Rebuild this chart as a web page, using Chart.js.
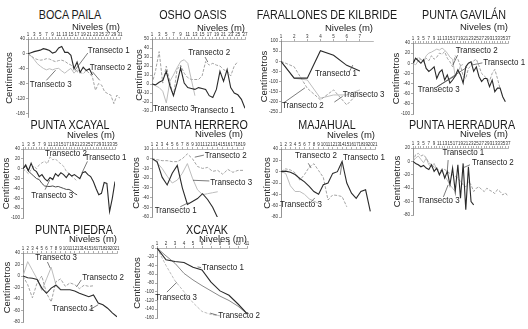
<!DOCTYPE html>
<html>
<head>
<meta charset="utf-8">
<script src="https://cdn.jsdelivr.net/npm/chart.js@4.4.0/dist/chart.umd.min.js"></script>
<style>
  body { margin: 0; width: 528px; height: 329px; background: #fff; position: relative; overflow: hidden;
         font-family: "Liberation Sans", Arial, sans-serif; }
  .ttl { position: absolute; transform: translate(-50%, -50%) scaleX(0.86); font-size: 12.5px; white-space: nowrap; color: #1a1a1a; }
</style>
</head>
<body>
<script>
const FONT = '"Liberation Sans", Arial, sans-serif';

// ---- Boca Paila ----
const bocaLevels = [1,2,3,4,5,6,7,8,9,10,11,12,13,14,15,16,17,18,19,20,21,22,23,24,25,26,27,28,29,30,31];
const bocaXLabels = [1,3,5,7,9,11,13,15,17,19,21,23,25,27,29,31];
const bocaYTicks = [40,20,0,-20,-40,-60,-80,-100,-120,-140,-160];
const bocaT1 = [0,3,6,8,10,14,12,9,2,5,16,20,4,4,-4,-40,-22,-50,-36,-45,-40,-57];
const bocaT2 = [0,-5,-12,-15,-17,-16,-13,-14,-18,-21,-18,-17,-20,-26,-30,-39,-48,-50,-53,-45,-52,-62,-98,-80,-84,-102,-107,-111,-134,-111,-120];
const bocaT3 = [0,-6,-15,-26,-33,-39,-43,-40,-43,-40,-39,-46,-52,-45,-39,-52,-43,-48];

// ---- Osho Oasis ----
const oshoLevels = [1,2,3,4,5,6,7,8,9,10,11,12,13,14,15,16,17,18,19,20,21,22,23,24,25,26,27];
const oshoXLabels = [1,3,5,7,9,11,13,15,17,19,21,23,25,27];
const oshoYTicks = [50,40,30,20,10,0,-10,-20,-30];
const oshoT1 = [0,-1,2,4,14,-2,-13,1,18,1,-4,-5,-6,-4,-5,-6,-13,-15,-6,14,3,16,-4,-10,-12,-17,-27];
const oshoT2 = [0,15,36,1,20,2,-13,16,21,12,7,5,5,5,9,25,21,23,21,20,16,14,9,20,25];
const oshoT3 = [0,-2,-4,-8,-21,3,10,18,25,27,23,5,-13];

// ---- Farallones de Kilbride ----
const farLevels = [1,2,3,4,5,6,7];
const farXLabels = [1,2,3,4,5,6,7];
const farYTicks = [100,50,0,-50,-100,-150,-200,-250];
const farT1 = [0,-83,-83,52,30,-20,-48];
const farT2 = [0,-27,-133,-190,-141,-215,-149];
const farT3 = [0,-84,-92,-182,-166,-166,-141];

// ---- Punta Gavilán ----
const gavLevels = [1,2,3,4,5,6,7,8,9,10,11,12,13,14,15,16,17,18,19,20,21,22,23,24,25,26,27,28,29,30,31,32,33,34,35,36,37];
const gavXLabels = [1,3,5,7,9,11,13,15,17,19,21,23,25,27,29,31,33,35,37];
const gavYTicks = [40,20,0,-20,-40,-60,-80,-100];
const gavT1 = [0,10,5,0,7,-10,-16,-12,-7,-30,-18,-13,-33,-23,-39,-33,-25,-13,-23,-39,-7,0,3,-16,-7,-26,-36,-30,-30,-46,-33,-56,-49,-49,-66,-76];
const gavT2 = [0,5,12,8,3,10,5,15,8,12,20,18,23,10,3,-7,15,8,-5,-25,-30,-10,-5,5,8,-5,-20,-25,-30,-35,-20,-12,-30,-50];
const gavT3 = [0,-3,5,8,3,15,20,22,25,28,26,30,26,20,12,8,-26,-18,-5,-2];

// ---- Punta Xcayal ----
const xcaLevels = [1,2,3,4,5,6,7,8,9,10,11,12,13,14,15,16,17,18,19,20,21,22,23,24,25,26,27,28,29,30,31,32,33,34,35];
const xcaXLabels = [1,3,5,7,9,11,13,15,17,19,21,23,25,27,29,31,33,35];
const xcaYTicks = [40,20,0,-20,-40,-60,-80,-100];
const xcaT1 = [0,8,-4,11,-2,-6,-16,-12,-20,-25,-18,-22,-10,-15,-8,-12,-18,-10,-15,-12,-16,-20,-8,-6,-12,-16,-26,-40,-53,-50,-28,-30,-87,-60,-26];
const xcaT2 = [0,-5,-10,-2,5,0,8,12,15,10,24,18,20,14,10,5,-5,-10,-15,-20,-25];
const xcaT3 = [0,5,-5,-10,-15,-20,-22,-30,-35,-36,-36,-35,-37,-36,-38,-40,-42,-42,-45,-50,-53];

// ---- Punta Herrero ----
const herLevels = [1,2,3,4,5,6,7,8,9,10,11,12,13,14,15,16,17,18,19];
const herXLabels = [1,2,3,4,5,6,7,8,9,10,11,12,13,14,15,16,17,18,19];
const herYTicks = [10,0,-10,-20,-30,-40,-50,-60];
const herT1 = [0,-3,-19,-27,-15,-7,-30,-47,-44,-41,-36,-42,-50,-61];
const herT2 = [0,-1,-2,-2,-3,-3,0,5,0,-8,-10,-9,-13,-12,-16,-11,-14,-12,-12];
const herT3 = [0,-4,-10,-18,-25,-22,-15,-5,-20,-32,-37,-36,-35,-34];

// ---- Majahual ----
const majLevels = [1,2,3,4,5,6,7,8,9,10,11,12,13,14,15,16,17,18,19,20,21];
const majXLabels = [1,2,3,4,5,6,7,8,9,10,11,12,13,14,15,16,17,18,19,20,21];
const majYTicks = [40,20,0,-20,-40,-60,-80];
const majT1 = [0,1,-1,-5,-12,-18,-26,-35,-40,-23,-20,-3,0,18,-20,-38,-47,-35,-32,-70];
const majT2 = [0,5,3,-2,-15,-5,8,14,2,-10,-50,-41,-42,-44,-62];
const majT3 = [0,-3,-25,-35,-35,-40,-48,-52,-56];

// ---- Punta Herradura ----
const hraLevels = [1,2,3,4,5,6,7,8,9,10,11,12,13,14,15,16,17,18,19,20,21,22,23,24,25,26,27,28,29,30,31,32,33,34,35,36,37];
const hraXLabels = [1,3,5,7,9,11,13,15,17,19,21,23,25,27,29,31,33,35,37];
const hraYTicks = [20,10,0,-10,-20,-30,-40,-50,-60,-70,-80];
const hraT1 = [0,-3,-5,-8,-6,-10,-12,-5,-15,-10,-20,-12,-25,-15,-35,-10,-45,-5,-55,-3,-72,-8,-60,-65];
const hraT2 = [0,10,12,8,10,5,-2,-5,-8,-12,-13,-15,-12,-15,-18,-20,-22,-25,-30,-35,-38,-30,-35,-45,-40,-38,-42,-45,-40,-43,-45,-48,-42,-45,-50,-47,-52];
const hraT3 = [0,5,8,3,-2,5,-5,-8,-3,-12,-18,-15,-22,-28,-35,-40,-45];

// ---- Punta Piedra ----
const pieLevels = [1,2,3,4,5,6,7,8,9,10,11,12,13,14,15,16,17,18,19,20,21];
const pieXLabels = [1,2,3,4,5,6,7,8,9,10,11,12,13,14,15,16,17,18,19,20,21];
const pieYTicks = [40,20,0,-20,-40,-60,-80];
const pieT1 = [0,-3,-4,-6,-21,-30,-21,-16,-24,-24,-24,-26,-30,-33,-36,-33,-47,-50,-56,-64,-71];
const pieT2 = [0,-15,-38,-12,0,-30,-45,-10,-5,-18,-12,-15,-22,-16,-18,-17];
const pieT3 = [0,25,10,-5,-25,-5,15,-15,-22];

// ---- Xcayak ----
const xckLevels = [1,2,3,4,5,6,7,8,9,10,11];
const xckXLabels = [1,2,3,4,5,6,7,8,9,10,11];
const xckYTicks = [0,-20,-40,-60,-80,-100,-120,-140,-160];
const xckT1 = [0,-27,-31,-33,-44,-50,-78,-98,-108,-128,-150];
const xckT2 = [0,-40,-75,-100,-125,-145,-152,-155];
const xckT3 = [0,-18,-35,-58,-73,-86,-98,-110,-120,-133,-150];

// line styles: Transecto 1, 2, 3
const lineColors = ['#2a2a2a', '#a3a3a3', '#bdbdbd'];

// label positions are fractions of the plot area
const panels = [
  { title: 'BOCA PAILA', tx: 70, ty: 15, l: 28, t: 39, r: 120, b: 117, yW: 24, xH: 17,
    yMin: -170, yMax: 40, yTicks: bocaYTicks, levels: bocaLevels, xLabels: bocaXLabels,
    series: [bocaT1, bocaT2, bocaT3],
    notes: [
      { text: 'Transecto 1', at: [0.65, 0.14], lines: [[[0.65, 0.18], [0.51, 0.40]]] },
      { text: 'Transecto 2', at: [0.67, 0.37], lines: [[[0.70, 0.42], [0.78, 0.53]]] },
      { text: 'Transecto 3', at: [0.02, 0.58], lines: [[[0.20, 0.53], [0.30, 0.40]]] } ] },
  { title: 'OSHO OASIS', tx: 193, ty: 15, l: 152, t: 39, r: 245, b: 111, yW: 18, xH: 16,
    yMin: -30, yMax: 50, yTicks: oshoYTicks, levels: oshoLevels, xLabels: oshoXLabels,
    series: [oshoT1, oshoT2, oshoT3],
    notes: [
      { text: 'Transecto 2', at: [0.39, 0.18], lines: [[[0.57, 0.25], [0.60, 0.32]]] },
      { text: 'Transecto 3', at: [0.01, 0.96], lines: [] },
      { text: 'Transecto 1', at: [0.44, 0.99], lines: [] } ] },
  { title: 'FARALLONES DE KILBRIDE', tx: 327, ty: 15, l: 281, t: 41, r: 373, b: 112, yW: 22, xH: 18,
    yMin: -250, yMax: 100, xMax: 8, yTicks: farYTicks, levels: farLevels, xLabels: farXLabels,
    series: [farT1, farT2, farT3],
    notes: [
      { text: 'Transecto 1', at: [0.37, 0.46], lines: [[[0.74, 0.44], [0.78, 0.34]]] },
      { text: 'Transecto 3', at: [0.67, 0.75], lines: [[[0.67, 0.78], [0.58, 0.86]]] },
      { text: 'Transecto 2', at: [0.01, 0.90], lines: [[[0.03, 0.87], [0.26, 0.66]]] } ] },
  { title: 'PUNTA GAVILÁN', tx: 464, ty: 15, l: 413, t: 43, r: 508, b: 114, yW: 22, xH: 21,
    yMin: -100, yMax: 40, yTicks: gavYTicks, levels: gavLevels, xLabels: gavXLabels,
    series: [gavT1, gavT2, gavT3],
    notes: [
      { text: 'Transecto 2', at: [0.45, 0.10], lines: [[[0.47, 0.17], [0.42, 0.31]]] },
      { text: 'Transecto 1', at: [0.74, 0.27], lines: [[[0.73, 0.28], [0.62, 0.31]]] },
      { text: 'Transecto 3', at: [0.05, 0.66], lines: [[[0.25, 0.62], [0.57, 0.34]], [[0.25, 0.62], [0.46, 0.45]]] } ] },
  { title: 'PUNTA XCAYAL', tx: 70, ty: 125, l: 23, t: 149, r: 115, b: 218, yW: 22, xH: 19,
    yMin: -100, yMax: 40, yTicks: xcaYTicks, levels: xcaLevels, xLabels: xcaXLabels,
    series: [xcaT1, xcaT2, xcaT3], colors: ['#2a2a2a', '#b0b0b0', '#4a4a4a'],
    notes: [
      { text: 'Transecto 2', at: [0.24, 0.06], lines: [] },
      { text: 'Transecto 1', at: [0.67, 0.12], lines: [[[0.70, 0.18], [0.64, 0.35]]] },
      { text: 'Transecto 3', at: [0.09, 0.67], lines: [[[0.24, 0.59], [0.29, 0.45]]] } ] },
  { title: 'PUNTA HERRERO', tx: 202, ty: 125, l: 152, t: 149, r: 243, b: 217, yW: 21, xH: 20,
    yMin: -60, yMax: 10, yTicks: herYTicks, levels: herLevels, xLabels: herXLabels,
    series: [herT1, herT2, herT3],
    notes: [
      { text: 'Transecto 2', at: [0.58, 0.09], lines: [[[0.57, 0.09], [0.47, 0.12]]] },
      { text: 'Transecto 3', at: [0.64, 0.49], lines: [[[0.63, 0.47], [0.45, 0.46]]] },
      { text: 'Transecto 1', at: [0.03, 0.90], lines: [[[0.31, 0.85], [0.40, 0.79]]] } ] },
  { title: 'MAJAHUAL', tx: 327, ty: 125, l: 281, t: 149, r: 375, b: 217, yW: 19, xH: 19,
    yMin: -80, yMax: 40, yTicks: majYTicks, levels: majLevels, xLabels: majXLabels,
    series: [majT1, majT2, majT3],
    notes: [
      { text: 'Transecto 2', at: [0.15, 0.09], lines: [[[0.29, 0.21], [0.32, 0.28]]] },
      { text: 'Transecto 1', at: [0.66, 0.12], lines: [[[0.65, 0.19], [0.63, 0.38]]] },
      { text: 'Transecto 3', at: [-0.01, 0.82], lines: [[[0.31, 0.79], [0.36, 0.72]]] } ] },
  { title: 'PUNTA HERRADURA', tx: 462, ty: 125, l: 413, t: 148, r: 508, b: 215, yW: 21, xH: 19,
    yMin: -80, yMax: 20, yTicks: hraYTicks, levels: hraLevels, xLabels: hraXLabels,
    series: [hraT1, hraT2, hraT3],
    notes: [
      { text: 'Transecto 1', at: [0.31, 0.07], lines: [[[0.37, 0.18], [0.36, 0.36]]] },
      { text: 'Transecto 2', at: [0.62, 0.22], lines: [[[0.60, 0.25], [0.52, 0.30]]] },
      { text: 'Transecto 3', at: [0.05, 0.78], lines: [[[0.32, 0.73], [0.37, 0.55]]] } ] },
  { title: 'PUNTA PIEDRA', tx: 74, ty: 230, l: 23, t: 253, r: 117, b: 322, yW: 21, xH: 19,
    yMin: -80, yMax: 40, yTicks: pieYTicks, levels: pieLevels, xLabels: pieXLabels,
    series: [pieT1, pieT2, pieT3],
    notes: [
      { text: 'Transecto 3', at: [0.13, 0.07], lines: [[[0.26, 0.13], [0.29, 0.22]]] },
      { text: 'Transecto 2', at: [0.63, 0.36], lines: [[[0.62, 0.39], [0.57, 0.49]]] },
      { text: 'Transecto 1', at: [0.31, 0.80], lines: [[[0.70, 0.83], [0.80, 0.75]]] } ] },
  { title: 'XCAYAK', tx: 207, ty: 230, l: 157, t: 248, r: 247, b: 318, yW: 25, xH: 14,
    yMin: -160, yMax: 0, yTicks: xckYTicks, levels: xckLevels, xLabels: xckXLabels,
    series: [xckT1, xckT2, xckT3], colors: ['#2a2a2a', '#bdbdbd', '#8a8a8a'],
    notes: [
      { text: 'Transecto 1', at: [0.50, 0.27], lines: [[[0.49, 0.28], [0.45, 0.27]]] },
      { text: 'Transecto 3', at: [-0.02, 0.70], lines: [[[0.11, 0.63], [0.22, 0.49]]] },
      { text: 'Transecto 2', at: [0.68, 0.96], lines: [[[0.67, 0.96], [0.59, 0.93]]] } ] }
];

// draws the "Transecto n" callouts and their leader lines
const transectLabels = {
  id: 'transectLabels',
  afterDatasetsDraw(chart, args, opts) {
    const a = chart.chartArea;
    const ctx = chart.ctx;
    const px = f => a.left + f * (a.right - a.left);
    const py = f => a.top + f * (a.bottom - a.top);
    ctx.save();
    ctx.strokeStyle = '#444';
    ctx.lineWidth = 0.7;
    (opts.items || []).forEach(it => {
      it.lines.forEach(([p, q]) => {
        ctx.beginPath();
        ctx.moveTo(px(p[0]), py(p[1]));
        ctx.lineTo(px(q[0]), py(q[1]));
        ctx.stroke();
      });
    });
    ctx.font = '9.5px ' + FONT;
    ctx.fillStyle = '#1e1e1e';
    ctx.textBaseline = 'middle';
    ctx.textAlign = 'left';
    (opts.items || []).forEach(it => {
      // condensed look, like the original typeface
      ctx.save();
      ctx.translate(px(it.at[0]), py(it.at[1]));
      ctx.scale(0.84, 1);
      ctx.fillText(it.text, 0, 0);
      ctx.restore();
    });
    ctx.restore();
  }
};

Chart.defaults.font.family = FONT;

function makePanel(p) {
  const padR = 18, padB = 7;
  const w = p.r - p.l + p.yW + padR;
  const h = p.b - p.t + p.xH + padB;
  const cv = document.createElement('canvas');
  cv.width = w;
  cv.height = h;
  cv.style.cssText = 'position:absolute;left:' + (p.l - p.yW) + 'px;top:' + (p.t - p.xH) + 'px;width:' + w + 'px;height:' + h + 'px';
  document.body.appendChild(cv);

  const ttl = document.createElement('div');
  ttl.className = 'ttl';
  ttl.textContent = p.title;
  ttl.style.left = p.tx + 'px';
  ttl.style.top = p.ty + 'px';
  document.body.appendChild(ttl);

  const colors = p.colors || lineColors;
  new Chart(cv, {
    type: 'line',
    data: {
      datasets: p.series.map((s, i) => ({
        label: 'Transecto ' + (i + 1),
        data: s.map((v, j) => ({ x: p.levels[j], y: v })),
        borderColor: colors[i],
        borderWidth: i === 0 ? 1.1 : 1,
        borderDash: i === 1 ? [3, 1.5] : [],
        pointRadius: 0,
        tension: 0,
        fill: false
      }))
    },
    options: {
      responsive: false,
      animation: false,
      devicePixelRatio: 1,
      layout: { padding: { left: 0, top: 0, right: padR, bottom: padB } },
      plugins: {
        legend: { display: false },
        tooltip: { enabled: false },
        transectLabels: { items: p.notes }
      },
      scales: {
        x: {
          type: 'linear',
          position: 'top',
          min: p.levels[0],
          max: p.xMax || p.levels[p.levels.length - 1],
          afterBuildTicks: s => { s.ticks = p.levels.map(v => ({ value: v })); },
          afterFit: s => { s.height = p.xH; },
          ticks: {
            autoSkip: false, maxRotation: 0, padding: 0,
            font: { size: 4.5 }, color: '#333',
            callback: v => p.xLabels.includes(v) ? String(v) : ''
          },
          grid: { drawOnChartArea: false, tickLength: 2, color: '#777', lineWidth: 0.6 },
          border: { color: '#888', width: 0.6 },
          title: { display: true, text: 'Niveles (m)', align: 'end', font: { size: 9.5 }, color: '#222', padding: 0 }
        },
        y: {
          min: p.yMin,
          max: p.yMax,
          afterBuildTicks: s => { s.ticks = p.yTicks.map(v => ({ value: v })); },
          afterFit: s => { s.width = p.yW; },
          ticks: { padding: 1, font: { size: 4.5 }, color: '#333' },
          grid: { drawOnChartArea: false, tickLength: 2, color: '#777', lineWidth: 0.6 },
          border: { color: '#666', width: 0.7 },
          title: { display: true, text: 'Centímetros', font: { size: 9.5 }, color: '#222', padding: 0 }
        }
      }
    },
    plugins: [transectLabels]
  });
}

panels.forEach(makePanel);
</script>
</body>
</html>
